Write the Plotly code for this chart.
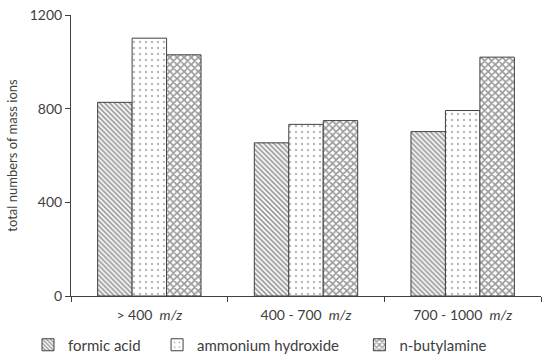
import plotly.graph_objects as go

categories = ["> 400 m/z", "400 - 700 m/z", "700 - 1000 m/z"]
tick_labels = ["> 400  <i>m/z</i>", "400 - 700  <i>m/z</i>", "700 - 1000  <i>m/z</i>"]
series_names = ["formic acid", "ammonium hydroxide", "n-butylamine"]
formic_acid = [827, 654, 702]
ammonium_hydroxide = [1101, 733, 792]
n_butylamine = [1030, 749, 1020]

patterns = [
    dict(shape="\\", size=3.5, solidity=0.5, fgcolor="#333333", bgcolor="white"),
    dict(shape=".", size=6, solidity=0.12, fgcolor="#707070", bgcolor="white"),
    dict(shape="x", size=5, solidity=0.55, fgcolor="#333333", bgcolor="white"),
]
legend_pad = [3, 4, 0]  # trailing spacing so legend entries sit at the reference columns

fig = go.Figure()
for name, vals, pat, pad in zip(series_names, [formic_acid, ammonium_hydroxide, n_butylamine], patterns, legend_pad):
    fig.add_trace(go.Bar(
        x=categories, y=vals, name=name + "\u00a0" * pad,
        marker=dict(color="white", pattern=pat, line=dict(color="#404040", width=1)),
    ))

font = "Lato, 'Open Sans', sans-serif"
fig.update_layout(
    width=550, height=354,
    margin=dict(l=71, r=9, t=15, b=58, autoexpand=False),
    plot_bgcolor="white", paper_bgcolor="white",
    barmode="group", bargap=0.34, bargroupgap=0,
    font=dict(family=font, size=14, color="#404040"),
    showlegend=True,
    legend=dict(orientation="h", xref="container", yref="container",
                x=28 / 550, xanchor="left", y=1 - 345 / 354, yanchor="middle",
                bgcolor="rgba(0,0,0,0)",
                font=dict(size=15, color="#404040"), itemwidth=30,
                tracegroupgap=0),
    xaxis=dict(
        tickmode="array", tickvals=categories, ticktext=tick_labels,
        showline=True, linecolor="#404040", linewidth=1,
        ticks="outside", tickson="boundaries", ticklen=5, tickcolor="#404040",
        showgrid=False, tickfont=dict(size=14, color="#404040"), automargin=False,
        ticklabelstandoff=6,
    ),
    yaxis=dict(
        range=[0, 1200], tickvals=[0, 400, 800, 1200],
        showline=True, linecolor="#404040", linewidth=1,
        ticks="outside", ticklen=5, tickcolor="#404040",
        showgrid=False, zeroline=False, tickfont=dict(size=14, color="#404040"),
        title=dict(text="total numbers of mass ions", font=dict(size=13, color="#404040"), standoff=9),
        automargin=False,
    ),
)

fig.write_html("out.html", config={"displayModeBar": False},
               post_script="document.body.style.margin='0';document.body.style.overflow='hidden';")
